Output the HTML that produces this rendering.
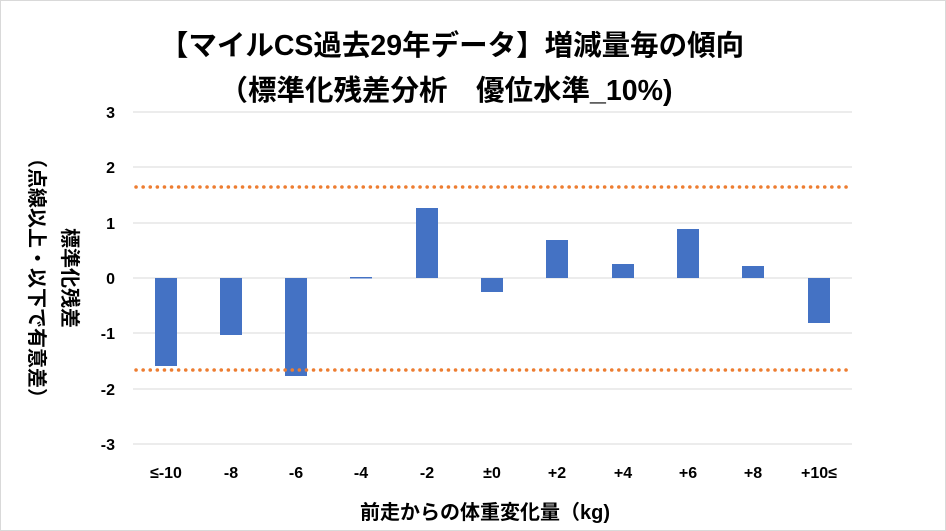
<!DOCTYPE html>
<html><head><meta charset="utf-8"><style>
html,body{margin:0;padding:0;background:#fff}
svg{display:block}
text{font-family:"Liberation Sans","Noto Sans CJK JP",sans-serif;font-weight:bold;fill:#000}
</style></head><body>
<svg width="946" height="531" viewBox="0 0 946 531" xmlns="http://www.w3.org/2000/svg">
<rect x="0.5" y="0.5" width="945" height="530" fill="#fff" stroke="#d9d9d9"/>
<text x="452" y="55" font-size="28.5" text-anchor="middle">【マイルCS過去29年データ】増減量毎の傾向</text>
<text x="446" y="100" font-size="28.5" text-anchor="middle">（標準化残差分析　優位水準_10%)</text>
<g stroke="#d9d9d9" stroke-width="1">
<line x1="133" x2="852" y1="112" y2="112"/><line x1="133" x2="852" y1="167" y2="167"/>
<line x1="133" x2="852" y1="223" y2="223"/><line x1="133" x2="852" y1="278" y2="278"/>
<line x1="133" x2="852" y1="333" y2="333"/><line x1="133" x2="852" y1="389" y2="389"/>
<line x1="133" x2="852" y1="444" y2="444"/>
</g>
<g font-size="16" text-anchor="end">
<text x="115" y="118">3</text><text x="115" y="173">2</text><text x="115" y="229">1</text>
<text x="115" y="284">0</text><text x="115" y="339">-1</text><text x="115" y="395">-2</text>
<text x="115" y="450">-3</text>
</g>
<g fill="#4472c4">
<rect x="155" y="278" width="22" height="88"/>
<rect x="220" y="278" width="22" height="57"/>
<rect x="285" y="278" width="22" height="98"/>
<rect x="350" y="277" width="22" height="1.5"/>
<rect x="416" y="208" width="22" height="70"/>
<rect x="481" y="278" width="22" height="14"/>
<rect x="546" y="240" width="22" height="38"/>
<rect x="612" y="264" width="22" height="14"/>
<rect x="677" y="229" width="22" height="49"/>
<rect x="742" y="266" width="22" height="12"/>
<rect x="808" y="278" width="22" height="45"/>
</g>
<g stroke="#ed7d31" stroke-width="3.5" stroke-dasharray="0.1 7" stroke-linecap="round">
<line x1="136" x2="850" y1="187" y2="187"/><line x1="136" x2="850" y1="370" y2="370"/>
</g>
<g font-size="16" text-anchor="middle">
<text x="166" y="478">≤-10</text><text x="231" y="478">-8</text><text x="296" y="478">-6</text>
<text x="361" y="478">-4</text><text x="427" y="478">-2</text><text x="492" y="478">±0</text>
<text x="557" y="478">+2</text><text x="623" y="478">+4</text><text x="688" y="478">+6</text>
<text x="753" y="478">+8</text><text x="819" y="478">+10≤</text>
</g>
<text x="485" y="519" font-size="20" text-anchor="middle">前走からの体重変化量（kg)</text>
<text transform="translate(63,278) rotate(90)" font-size="20" text-anchor="middle">標準化残差</text>
<text transform="translate(30,278) rotate(90)" font-size="20" text-anchor="middle">（点線以上・以下で有意差）</text>
</svg>
</body></html>
